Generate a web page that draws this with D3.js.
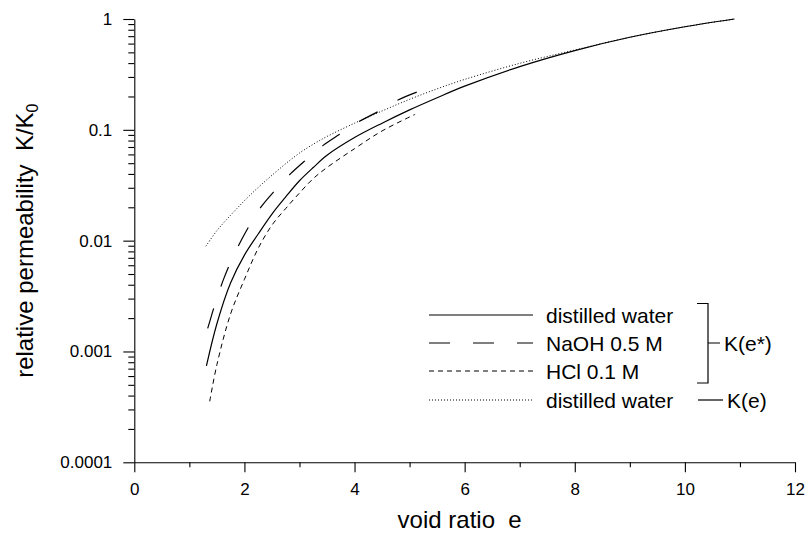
<!DOCTYPE html>
<html>
<head>
<meta charset="utf-8">
<script src="https://cdn.jsdelivr.net/npm/d3@7"></script>
<style>
  html, body { margin: 0; padding: 0; background: #fff; }
  svg { display: block; font-family: "Liberation Sans", Arial, sans-serif; }
</style>
</head>
<body>
<svg id="chart" width="810" height="534"></svg>
<script>
// Void ratio e and relative permeability K/K0 for each curve
const eDistilled = [1.31, 1.5, 1.75, 2.0, 2.25, 2.5, 2.75, 3.0, 3.25, 3.5, 4.0, 4.5, 5.0, 5.5, 6.0, 7.0, 8.0, 9.0, 10.0, 10.9];
const kDistilledStar = [0.000741, 0.00178, 0.00417, 0.00741, 0.01148, 0.01738, 0.02483, 0.0347, 0.0457, 0.0589, 0.0851, 0.1148, 0.1514, 0.195, 0.248, 0.372, 0.519, 0.684, 0.851, 1.0];

const eDistilledKe = [1.3, 1.5, 1.75, 2.0, 2.25, 2.5, 2.75, 3.0, 3.25, 3.5, 4.0, 4.5, 5.0, 5.5, 6.0, 7.0, 8.0, 9.0, 10.0, 10.9];
const kDistilledKe = [0.00891, 0.0123, 0.01698, 0.02291, 0.0302, 0.0389, 0.0495, 0.0617, 0.0741, 0.0871, 0.1148, 0.1479, 0.1884, 0.2344, 0.2851, 0.398, 0.525, 0.684, 0.851, 1.0];

const eNaOH = [1.25, 1.37, 1.48, 1.62, 1.77, 1.95, 2.13, 2.31, 2.55, 2.83, 3.12, 3.43, 3.73, 4.10, 4.45, 4.79, 5.13];
const kNaOH = [0.00117, 0.00186, 0.00282, 0.00447, 0.00676, 0.01023, 0.01479, 0.0204, 0.0282, 0.0398, 0.0537, 0.0724, 0.0912, 0.1202, 0.148, 0.186, 0.219];

const eHCl = [1.37, 1.5, 1.75, 2.0, 2.25, 2.5, 2.75, 3.0, 3.25, 3.5, 4.0, 4.5, 5.1];
const kHCl = [0.000355, 0.000759, 0.00219, 0.00447, 0.00851, 0.0138, 0.0195, 0.0269, 0.0363, 0.0457, 0.0676, 0.0977, 0.138];

const xTicks = [0, 2, 4, 6, 8, 10, 12];
const xMinorTicks = [1, 3, 5, 7, 9, 11];
const yTicks = [0.0001, 0.001, 0.01, 0.1, 1];
const yTickLabels = ["0.0001", "0.001", "0.01", "0.1", "1"];

const legendLabels = ["distilled water", "NaOH 0.5 M", "HCl 0.1 M", "distilled water"];
const groupLabels = ["K(e*)", "K(e)"];

// Line styles per series; "endOnDash" makes the pattern finish on a full dash
const styles = {
  solid:  { dash: null,    width: 1.2 },
  long:   { dash: "21,23", width: 1.2, period: 44, dashLen: 21 },
  short:  { dash: "5,4",   width: 1 },
  dotted: { dash: "1,2",   width: 1 }
};

const series = [
  { e: eDistilled,   k: kDistilledStar, style: styles.solid },
  { e: eNaOH,        k: kNaOH,          style: styles.long },
  { e: eHCl,         k: kHCl,           style: styles.short },
  { e: eDistilledKe, k: kDistilledKe,   style: styles.dotted }
];

const svg = d3.select("#chart");
const plotLeft = 134.3, plotRight = 795, plotTop = 19, plotBottom = 462.3;

const x = d3.scaleLinear().domain([0, 12]).range([plotLeft, plotRight]);
const y = d3.scaleLog().domain([1e-4, 1]).range([plotBottom, plotTop]);

// Curves
const line = d3.line()
  .x(d => x(d[0]))
  .y(d => y(d[1]))
  .curve(d3.curveCatmullRom.alpha(0.5));

series.forEach(s => {
  const pts = s.e.map((v, i) => [v, s.k[i]]);
  const p = svg.append("path")
    .attr("d", line(pts))
    .attr("fill", "none")
    .attr("stroke", "#000")
    .attr("stroke-width", s.style.width)
    .attr("stroke-dasharray", s.style.dash);
  if (s.style.period) {
    const L = p.node().getTotalLength();
    const off = ((s.style.dashLen - L) % s.style.period + s.style.period) % s.style.period;
    p.attr("stroke-dashoffset", off);
  }
});

// X axis
const gx = svg.append("g").attr("transform", `translate(0,${plotBottom})`);
gx.call(d3.axisBottom(x).tickValues(xTicks).tickSize(10).tickSizeOuter(0).tickPadding(7).tickFormat(d3.format("d")));
gx.append("g").call(d3.axisBottom(x).tickValues(xMinorTicks).tickSize(5).tickFormat(""))
  .select(".domain").remove();
gx.selectAll("text").attr("font-size", 17).attr("font-family", "Liberation Sans, Arial, sans-serif").attr("fill", "#000").attr("dy", "0.95em");

// Y axis with decade and minor ticks
const yMinor = [];
yTicks.slice(0, -1).forEach(t => { for (let m = 2; m <= 9; m++) yMinor.push(t * m); });
const gy = svg.append("g").attr("transform", `translate(${plotLeft},0)`);
gy.call(d3.axisLeft(y).tickValues(yTicks).tickSize(11).tickSizeOuter(0).tickPadding(11)
  .tickFormat((d, i) => yTickLabels[i]));
gy.append("g").call(d3.axisLeft(y).tickValues(yMinor).tickSize(6).tickFormat(""))
  .select(".domain").remove();
gy.selectAll("text").attr("font-size", 17).attr("font-family", "Liberation Sans, Arial, sans-serif").attr("fill", "#000");

svg.selectAll(".domain, .tick line").attr("stroke", "#000").attr("stroke-width", 1.1);

// Axis titles
svg.append("text")
  .attr("x", (plotLeft + plotRight) / 2 - 5)
  .attr("y", 528)
  .attr("text-anchor", "middle")
  .attr("font-size", 24)
  .attr("fill", "#000")
  .attr("xml:space", "preserve")
  .text("void ratio  e");

const yTitle = svg.append("text")
  .attr("transform", `translate(33,${(plotTop + plotBottom) / 2}) rotate(-90)`)
  .attr("text-anchor", "middle")
  .attr("font-size", 24)
  .attr("fill", "#000")
  .attr("xml:space", "preserve");
yTitle.append("tspan").text("relative permeability  K/K");
yTitle.append("tspan").attr("font-size", 16).attr("dy", 5).text("0");

// Legend
const legX0 = 429, legX1 = 533, legTextX = 546;
const legRows = [315, 343, 371, 400];
const legStyles = [styles.solid, styles.long, styles.short, styles.dotted];
const leg = svg.append("g");
legendLabels.forEach((lab, i) => {
  leg.append("line")
    .attr("x1", legX0).attr("x2", legX1)
    .attr("y1", legRows[i]).attr("y2", legRows[i])
    .attr("stroke", "#000")
    .attr("stroke-width", legStyles[i].width)
    .attr("stroke-dasharray", legStyles[i].dash);
  leg.append("text")
    .attr("x", legTextX).attr("y", legRows[i] + 7.5)
    .attr("font-size", 21).attr("fill", "#000")
    .text(lab);
});

// Bracket grouping the K(e*) entries
leg.append("path")
  .attr("d", "M697,303.5 H708 V383 H697 M708,343 H720")
  .attr("fill", "none").attr("stroke", "#000").attr("stroke-width", 1.2);
leg.append("text").attr("x", 724).attr("y", 350.5).attr("font-size", 21).attr("fill", "#000").text(groupLabels[0]);
leg.append("line").attr("x1", 698).attr("x2", 723).attr("y1", 400).attr("y2", 400)
  .attr("stroke", "#000").attr("stroke-width", 1.2);
leg.append("text").attr("x", 727).attr("y", 407.5).attr("font-size", 21).attr("fill", "#000").text(groupLabels[1]);
</script>
</body>
</html>
